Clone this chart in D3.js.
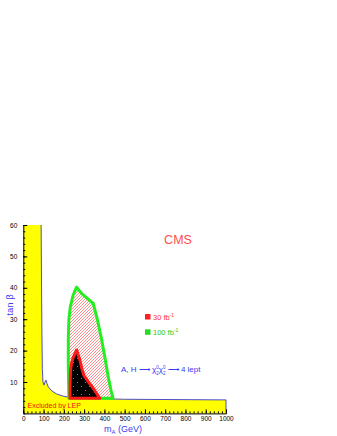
<!DOCTYPE html>
<html>
<head>
<meta charset="utf-8">
<script src="https://cdn.jsdelivr.net/npm/d3@7"></script>
<style>
  body { margin: 0; background: #fff; }
  svg { display: block; font-family: 'Liberation Sans', Arial, sans-serif; }
</style>
</head>
<body>
<div id="chartContainer"></div>
<script>
// MSSM A,H -> chi02 chi02 -> 4 leptons discovery reach (mA, tan beta)

const xTicks = [0, 100, 200, 300, 400, 500, 600, 700, 800, 900, 1000];
const yTicks = [10, 20, 30, 40, 50, 60];

// LEP excluded region boundary (mA, tan beta)
const lepMA = [88, 90, 92, 94, 97, 102, 107, 112, 117, 123, 140, 164, 197, 230, 300, 500, 1000];
const lepTanB = [60, 40, 25, 14, 10, 9, 10, 10.6, 9.5, 8.5, 7.2, 6.2, 5.5, 5.1, 4.8, 4.5, 4.3];

// 100 fb-1 discovery contour
const reach100MA = [225, 222, 222, 225, 232, 246, 263, 287, 345, 365, 385, 402, 418, 432, 443];
const reach100TanB = [4.8, 15, 24, 30, 34, 37.7, 40.2, 38.2, 35, 30, 24, 18, 12, 7.5, 4.8];

// 30 fb-1 discovery contour
const reach30MA = [230, 231, 233, 238, 246, 263, 279, 290, 300, 320, 345, 365, 378];
const reach30TanB = [4.8, 10, 13.8, 16, 17.8, 20.2, 17, 14, 12, 10.1, 8, 6, 4.8];

function renderChart() {
  const width = 337;
  const height = 436;

  const svg = d3.select('#chartContainer')
    .append('svg')
    .attr('width', width)
    .attr('height', height);

  const x = d3.scaleLinear().domain([0, 1000]).range([23.3, 226]);
  const y = d3.scaleLinear().domain([0, 60]).range([413.4, 225]);

  const defs = svg.append('defs');

  // red hatching for the 100 fb-1 area
  const hatch = defs.append('pattern')
    .attr('id', 'hatch')
    .attr('patternUnits', 'userSpaceOnUse')
    .attr('width', 3)
    .attr('height', 3);
  hatch.append('path')
    .attr('d', 'M-1,1 L1,-1 M0,3 L3,0 M2,4 L4,2')
    .attr('stroke', '#ff7070')
    .attr('stroke-width', 0.8);

  // black with sparse white dots for the 30 fb-1 area
  const dots = defs.append('pattern')
    .attr('id', 'dots')
    .attr('patternUnits', 'userSpaceOnUse')
    .attr('width', 8)
    .attr('height', 8);
  dots.append('rect').attr('width', 8).attr('height', 8).attr('fill', '#000');
  dots.append('rect').attr('x', 1).attr('y', 2).attr('width', 0.8).attr('height', 0.8).attr('fill', '#ccc');
  dots.append('rect').attr('x', 5).attr('y', 6).attr('width', 0.8).attr('height', 0.8).attr('fill', '#ccc');

  const lepPts = lepMA.map((m, i) => [m, lepTanB[i]]);
  const yellowPts = [[0, 0], [0, 60]].concat(lepPts, [[1000, 0]]);

  const area = d3.line().x(d => x(d[0])).y(d => y(d[1])).curve(d3.curveLinearClosed);
  const line = d3.line().x(d => x(d[0])).y(d => y(d[1]));

  svg.append('path')
    .attr('d', area(yellowPts))
    .attr('fill', '#ffff00');

  svg.append('path')
    .attr('d', line(lepPts.concat([[1000, 0]])))
    .attr('fill', 'none')
    .attr('stroke', '#3a3ad0')
    .attr('stroke-width', 0.9);

  const green = reach100MA.map((m, i) => [m, reach100TanB[i]]);
  svg.append('path')
    .attr('d', area(green))
    .attr('fill', 'url(#hatch)')
    .attr('stroke', '#22ee22')
    .attr('stroke-width', 3)
    .attr('stroke-linejoin', 'round');

  const red = reach30MA.map((m, i) => [m, reach30TanB[i]]);
  svg.append('path')
    .attr('d', area(red))
    .attr('fill', 'url(#dots)')
    .attr('stroke', '#ff1a1a')
    .attr('stroke-width', 3)
    .attr('stroke-linejoin', 'round');

  // axes, ticks pointing inward
  const gy = svg.append('g')
    .attr('transform', `translate(${x(0)},0)`)
    .call(d3.axisLeft(y).tickValues(yTicks).tickSizeInner(-4).tickSizeOuter(0).tickPadding(6));
  svg.append('g')
    .attr('transform', `translate(${x(0)},0)`)
    .call(d3.axisLeft(y).tickValues(d3.range(0, 61, 2)).tickSizeInner(-2).tickSizeOuter(0).tickFormat(''))
    .select('.domain').remove();

  const gx = svg.append('g')
    .attr('transform', `translate(0,${y(0)})`)
    .call(d3.axisBottom(x).tickValues(xTicks).tickFormat(d3.format('d'))
      .tickSizeInner(-4).tickSizeOuter(0).tickPadding(3));
  svg.append('g')
    .attr('transform', `translate(0,${y(0)})`)
    .call(d3.axisBottom(x).tickValues(d3.range(0, 1001, 20)).tickSizeInner(-2).tickSizeOuter(0).tickFormat(''))
    .select('.domain').remove();

  [gx, gy].forEach(g => {
    g.selectAll('text')
      .style('font-family', "'Liberation Sans', Arial, sans-serif")
      .style('font-size', '6.5px')
      .attr('fill', '#000');
  });

  svg.append('text')
    .attr('x', 178)
    .attr('y', 244)
    .attr('text-anchor', 'middle')
    .attr('font-size', 12.5)
    .attr('fill', '#ff4d4d')
    .text('CMS');

  // legend
  const legend = [
    { label: '30 fb', color: '#ff2020', text: '#ff3333', y: 314 },
    { label: '100 fb', color: '#22dd22', text: '#22cc22', y: 329.3 }
  ];
  legend.forEach(d => {
    svg.append('rect')
      .attr('x', 145)
      .attr('y', d.y)
      .attr('width', 5.5)
      .attr('height', 5.5)
      .attr('fill', d.color);
    const t = svg.append('text')
      .attr('x', 153)
      .attr('y', d.y + 5.8)
      .attr('font-size', 7.5)
      .attr('fill', d.text)
      .text(d.label);
    t.append('tspan')
      .attr('dy', -3)
      .attr('font-size', 5)
      .text('-1');
  });

  const proc = svg.append('text')
    .attr('x', 121)
    .attr('y', 372)
    .attr('font-size', 8)
    .attr('fill', '#3a3af0');
  proc.append('tspan').text('A, H \u27f6 \u03c7');
  proc.append('tspan').attr('dy', -3).attr('font-size', 4.5).text('0');
  proc.append('tspan').attr('dx', -2.5).attr('dy', 5.5).attr('font-size', 4.5).text('2');
  proc.append('tspan').attr('dy', -2.5).text('\u03c7');
  proc.append('tspan').attr('dy', -3).attr('font-size', 4.5).text('0');
  proc.append('tspan').attr('dx', -2.5).attr('dy', 5.5).attr('font-size', 4.5).text('2');
  proc.append('tspan').attr('dy', -2.5).text(' \u27f6 4 lept');

  svg.append('text')
    .attr('x', 27.5)
    .attr('y', 408)
    .attr('font-size', 7)
    .attr('fill', '#ee1111')
    .text('Excluded by LEP');

  const xl = svg.append('text')
    .attr('x', 104)
    .attr('y', 432)
    .attr('font-size', 9)
    .attr('fill', '#3a3af0');
  xl.append('tspan').text('m');
  xl.append('tspan').attr('dy', 2).attr('font-size', 6).text('A');
  xl.append('tspan').attr('dy', -2).text(' (GeV)');

  svg.append('text')
    .attr('transform', 'translate(12.5,305) rotate(-90)')
    .attr('text-anchor', 'middle')
    .attr('font-size', 9.5)
    .attr('fill', '#3a3af0')
    .text('tan \u03b2');
}

renderChart();
</script>
</body>
</html>
